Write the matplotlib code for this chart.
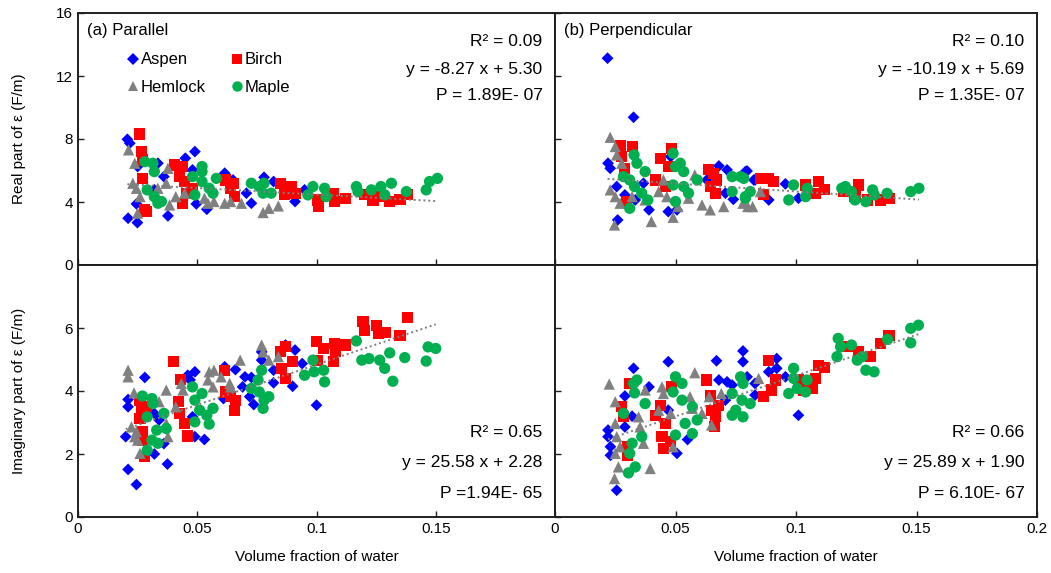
import matplotlib
matplotlib.use("Agg")
import matplotlib.pyplot as plt
from matplotlib.lines import Line2D
import numpy as np

plt.rcParams['font.family'] = ['Liberation Sans', 'DejaVu Sans']

# ---------------- data: volume fraction of water vs. permittivity ----------------
species = ["Aspen", "Birch", "Hemlock", "Maple"]

# (a) Parallel, real part
par_re_aspen_x = [0.0207, 0.0217, 0.021, 0.0249, 0.0245, 0.025, 0.045, 0.049, 0.0496, 0.054, 0.0377, 0.036,
                  0.0615, 0.0706, 0.0727, 0.078, 0.082, 0.091, 0.095, 0.0335, 0.032, 0.065, 0.048]
par_re_aspen_y = [7.98, 7.73, 2.97, 2.69, 3.88, 6.25, 6.78, 7.2, 3.88, 3.54, 3.12, 5.61,
                  5.83, 4.56, 3.92, 5.57, 5.3, 4.03, 4.77, 6.46, 4.77, 5.4, 6.04]
par_re_birch_x = [0.0259, 0.0266, 0.027, 0.027, 0.028, 0.0287, 0.0405, 0.044, 0.0426, 0.0447, 0.0454, 0.044,
                  0.048, 0.062, 0.065, 0.0657, 0.064, 0.085, 0.0894, 0.091, 0.0867, 0.1006, 0.101, 0.107,
                  0.1076, 0.112, 0.120, 0.1237, 0.126, 0.1307, 0.135, 0.138]
par_re_birch_y = [8.32, 7.2, 6.67, 5.5, 3.5, 3.39, 6.35, 6.25, 5.61, 5.3, 4.56, 3.92,
                  4.87, 5.4, 5.19, 4.34, 4.87, 5.19, 4.98, 4.56, 4.45, 4.13, 3.71, 4.56,
                  4.03, 4.24, 4.45, 4.13, 4.34, 4.03, 4.17, 4.45]
par_re_hemlock_x = [0.0212, 0.0238, 0.023, 0.0245, 0.026, 0.025, 0.0377, 0.0384, 0.041, 0.0447, 0.053, 0.0545,
                    0.057, 0.0615, 0.064, 0.0685, 0.0776, 0.080, 0.084, 0.0335, 0.037]
par_re_hemlock_y = [7.31, 6.46, 5.19, 4.87, 4.34, 3.29, 6.14, 3.81, 4.34, 4.56, 4.24, 3.92,
                    4.03, 3.92, 4.03, 3.92, 3.33, 3.6, 3.75, 4.87, 5.19]
par_re_maple_x = [0.028, 0.0314, 0.032, 0.029, 0.032, 0.0335, 0.035, 0.052, 0.052, 0.048, 0.052, 0.055,
                  0.0566, 0.049, 0.058, 0.0727, 0.076, 0.078, 0.0776, 0.081, 0.0964, 0.0985, 0.1034, 0.104,
                  0.1167, 0.1174, 0.123, 0.127, 0.1286, 0.1314, 0.1377, 0.146, 0.1474, 0.1507]
par_re_maple_y = [6.56, 6.46, 5.93, 4.77, 4.34, 3.92, 4.03, 6.25, 5.93, 5.61, 5.3, 4.87,
                  4.56, 4.45, 5.5, 5.19, 4.98, 5.19, 4.56, 4.56, 4.45, 4.98, 4.87, 4.34,
                  4.98, 4.66, 4.77, 4.98, 4.45, 5.19, 4.66, 4.77, 5.30, 5.5]

# (a) Parallel, imaginary part
par_im_aspen_x = [0.021, 0.0245, 0.020, 0.021, 0.021, 0.028, 0.032, 0.0375, 0.036, 0.049, 0.053, 0.049,
                  0.046, 0.047, 0.0615, 0.061, 0.066, 0.070, 0.0727, 0.069, 0.072, 0.0737, 0.082, 0.082,
                  0.077, 0.077, 0.087, 0.091, 0.090, 0.094, 0.100, 0.034, 0.032, 0.048]
par_im_aspen_y = [1.51, 1.03, 2.55, 3.73, 3.50, 4.43, 2.0, 1.68, 2.33, 2.55, 2.46, 4.61,
                  4.5, 4.35, 4.77, 3.76, 4.68, 4.45, 4.43, 4.13, 3.82, 3.57, 4.66, 4.26,
                  4.98, 5.24, 5.46, 5.30, 4.15, 4.87, 3.55, 3.08, 3.29, 3.18]
par_im_birch_x = [0.040, 0.043, 0.026, 0.0265, 0.026, 0.0287, 0.027, 0.028, 0.027, 0.042, 0.0426, 0.0447,
                  0.046, 0.0615, 0.062, 0.064, 0.0657, 0.066, 0.085, 0.087, 0.090, 0.0855, 0.087, 0.100,
                  0.103, 0.1006, 0.1076, 0.108, 0.107, 0.112, 0.1195, 0.120, 0.125, 0.126, 0.129, 0.135, 0.138]
par_im_birch_y = [4.93, 4.37, 3.71, 3.34, 3.13, 3.5, 2.44, 1.91, 2.71, 3.66, 3.29, 2.97,
                  2.57, 4.66, 3.97, 3.82, 3.39, 3.71, 5.24, 5.40, 4.93, 4.72, 4.40, 5.56,
                  5.35, 4.98, 5.51, 5.24, 4.93, 5.46, 6.2, 5.93, 6.09, 5.83, 5.85, 5.77, 6.32]
par_im_hemlock_x = [0.021, 0.021, 0.0235, 0.0224, 0.0238, 0.025, 0.026, 0.0245, 0.034, 0.037, 0.0377, 0.037,
                    0.041, 0.0433, 0.044, 0.0545, 0.055, 0.057, 0.0566, 0.060, 0.0636, 0.064, 0.068, 0.077,
                    0.0776, 0.080, 0.084]
par_im_hemlock_y = [4.66, 4.45, 3.94, 2.86, 2.55, 2.44, 2.02, 2.71, 3.66, 4.03, 2.55, 2.97,
                    3.5, 4.24, 4.03, 4.35, 4.61, 4.66, 4.13, 4.45, 4.24, 4.13, 4.98, 5.46,
                    5.24, 4.98, 5.09]
par_im_maple_x = [0.027, 0.031, 0.0314, 0.029, 0.033, 0.031, 0.029, 0.0335, 0.036, 0.037, 0.048, 0.052,
                  0.049, 0.051, 0.054, 0.055, 0.0566, 0.049, 0.077, 0.0755, 0.0727, 0.076, 0.080, 0.0776,
                  0.078, 0.095, 0.0985, 0.099, 0.1034, 0.103, 0.1167, 0.119, 0.122, 0.1265, 0.1286, 0.1307,
                  0.132, 0.137, 0.146, 0.1468, 0.150]
par_im_maple_y = [3.84, 3.76, 3.6, 3.18, 2.76, 2.44, 2.12, 2.34, 3.29, 2.81, 4.13, 3.92,
                  3.71, 3.39, 3.23, 2.95, 3.45, 3.02, 4.66, 4.35, 4.08, 3.97, 3.82, 3.45,
                  3.71, 4.5, 4.98, 4.61, 4.29, 4.66, 5.59, 4.98, 5.03, 4.98, 4.72, 5.21,
                  4.31, 5.06, 4.95, 5.40, 5.35]

# (b) Perpendicular, real part
per_re_aspen_x = [0.0218, 0.0326, 0.022, 0.0229, 0.0256, 0.029, 0.026, 0.0367, 0.039, 0.047, 0.0506, 0.048,
                  0.068, 0.0714, 0.063, 0.0707, 0.074, 0.0797, 0.0825, 0.0333, 0.079, 0.083, 0.0956, 0.0887, 0.101]
per_re_aspen_y = [13.13, 9.38, 6.46, 6.14, 4.98, 4.45, 2.86, 5.19, 3.5, 3.39, 3.5, 6.88,
                  6.29, 6.04, 5.4, 4.56, 4.17, 5.97, 5.4, 4.13, 5.93, 5.4, 5.15, 4.13, 4.24]
per_re_birch_x = [0.0273, 0.032, 0.0277, 0.029, 0.0298, 0.0437, 0.047, 0.0485, 0.0416, 0.0457, 0.0638, 0.0658,
                  0.0644, 0.067, 0.0665, 0.0852, 0.0887, 0.0908, 0.0865, 0.104, 0.1095, 0.108, 0.112, 0.1199,
                  0.126, 0.1245, 0.1296, 0.135, 0.1386]
per_re_birch_y = [7.56, 7.52, 6.88, 6.14, 4.03, 6.78, 6.25, 7.41, 5.4, 4.98, 6.04, 5.83,
                  4.98, 5.4, 4.56, 5.5, 5.5, 5.29, 4.45, 5.08, 5.29, 4.55, 4.77, 4.66,
                  5.08, 4.34, 4.13, 4.13, 4.24]
per_re_hemlock_x = [0.0229, 0.025, 0.0256, 0.0277, 0.0229, 0.025, 0.027, 0.0247, 0.032, 0.0374, 0.040, 0.043,
                    0.045, 0.0464, 0.049, 0.051, 0.0554, 0.058, 0.061, 0.0644, 0.070, 0.078, 0.080, 0.082, 0.0852]
per_re_hemlock_y = [8.11, 7.52, 6.99, 6.46, 4.77, 4.34, 3.92, 2.54, 4.34, 4.13, 2.76, 4.66,
                    5.4, 4.34, 3.03, 3.71, 4.24, 5.72, 3.81, 3.5, 3.71, 3.92, 3.71, 3.71, 4.66]
per_re_maple_x = [0.0328, 0.034, 0.0374, 0.0284, 0.031, 0.033, 0.036, 0.0385, 0.031, 0.049, 0.052, 0.0534,
                  0.050, 0.049, 0.0534, 0.0554, 0.059, 0.050, 0.0735, 0.077, 0.0735, 0.079, 0.0783, 0.081,
                  0.079, 0.099, 0.097, 0.1047, 0.104, 0.1205, 0.119, 0.123, 0.1245, 0.129, 0.1318, 0.1325,
                  0.1378, 0.1476, 0.151]
per_re_maple_y = [6.99, 6.46, 5.93, 5.61, 5.40, 4.98, 4.56, 4.13, 3.6, 7.09, 6.46, 5.93,
                  6.25, 5.08, 4.98, 4.56, 5.4, 4.03, 5.61, 5.61, 4.66, 4.34, 5.5, 4.66,
                  4.24, 5.08, 4.13, 4.87, 4.34, 4.98, 4.87, 4.66, 4.13, 4.02, 4.77, 4.45,
                  4.55, 4.66, 4.87]

# (b) Perpendicular, imaginary part
per_im_aspen_x = [0.0256, 0.022, 0.022, 0.023, 0.023, 0.029, 0.0326, 0.032, 0.029, 0.047, 0.0506, 0.055,
                  0.047, 0.067, 0.068, 0.0714, 0.0735, 0.0707, 0.078, 0.078, 0.0797, 0.083, 0.0887, 0.092,
                  0.092, 0.0956, 0.101, 0.083, 0.039]
per_im_aspen_y = [0.85, 2.76, 2.55, 2.23, 1.96, 3.84, 4.72, 3.2, 2.86, 4.93, 2.02, 2.46,
                  3.39, 4.96, 4.35, 4.29, 4.19, 3.71, 5.27, 4.93, 4.45, 4.24, 4.61, 4.72,
                  5.03, 4.45, 3.23, 3.87, 4.13]
per_im_birch_x = [0.031, 0.0277, 0.0284, 0.030, 0.030, 0.0416, 0.0437, 0.0457, 0.0444, 0.045, 0.048, 0.0485,
                  0.063, 0.0644, 0.065, 0.0665, 0.066, 0.068, 0.0866, 0.0887, 0.0915, 0.090, 0.101, 0.103,
                  0.108, 0.1067, 0.1095, 0.112, 0.122, 0.126, 0.131, 0.135, 0.1386]
per_im_birch_y = [4.24, 3.5, 3.18, 2.23, 1.96, 3.23, 3.55, 2.97, 2.55, 2.18, 2.39, 4.13,
                  4.35, 3.87, 3.39, 3.18, 2.86, 3.55, 3.82, 4.98, 4.35, 4.03, 4.35, 4.03,
                  4.40, 4.08, 4.82, 4.75, 5.40, 5.24, 5.09, 5.51, 5.77]
per_im_hemlock_x = [0.0225, 0.025, 0.025, 0.0256, 0.025, 0.0247, 0.0263, 0.027, 0.0347, 0.0353, 0.0367, 0.0395,
                    0.043, 0.0444, 0.045, 0.048, 0.049, 0.058, 0.056, 0.057, 0.061, 0.064, 0.065, 0.069,
                    0.0845, 0.0374]
per_im_hemlock_y = [4.22, 3.66, 2.97, 2.55, 2.02, 1.22, 1.59, 2.23, 3.18, 2.86, 2.34, 1.54,
                    3.39, 4.13, 3.92, 3.29, 2.23, 4.58, 3.82, 3.45, 3.29, 3.82, 2.92, 3.92,
                    4.40, 4.03]
per_im_maple_x = [0.034, 0.0326, 0.033, 0.0284, 0.0374, 0.036, 0.032, 0.031, 0.0333, 0.0305, 0.050, 0.0527,
                  0.049, 0.0527, 0.054, 0.057, 0.050, 0.059, 0.057, 0.077, 0.078, 0.0735, 0.0776, 0.081,
                  0.0735, 0.078, 0.075, 0.097, 0.099, 0.099, 0.1005, 0.1046, 0.104, 0.1175, 0.1185, 0.117,
                  0.123, 0.1254, 0.1275, 0.129, 0.1324, 0.138, 0.1476, 0.1508, 0.1476]
per_im_maple_y = [4.35, 4.24, 3.94, 3.29, 3.6, 2.55, 2.34, 2.02, 1.59, 1.40, 4.45, 4.24,
                  3.97, 3.71, 2.97, 2.65, 2.6, 3.08, 3.5, 4.45, 4.24, 3.92, 3.71, 3.6,
                  3.23, 3.18, 3.39, 3.92, 4.72, 4.4, 4.08, 4.35, 3.97, 5.67, 5.40, 5.09,
                  5.46, 4.98, 5.09, 4.66, 4.61, 5.64, 5.99, 6.09, 5.53]

# linear fits reported for each panel: (slope, intercept, R², P text)
fit_par_re = (-8.27, 5.30, "0.09", "P = 1.89E- 07")
fit_par_im = (25.58, 2.28, "0.65", "P =1.94E- 65")
fit_per_re = (-10.19, 5.69, "0.10", "P = 1.35E- 07")
fit_per_im = (25.89, 1.90, "0.66", "P = 6.10E- 67")

# ---------------- styling ----------------
colors = {"Aspen": "#0000FF", "Birch": "#FF0000", "Hemlock": "#808080", "Maple": "#00B050"}
markers = {"Aspen": "D", "Birch": "s", "Hemlock": "^", "Maple": "o"}
sizes = {"Aspen": 36, "Birch": 64, "Hemlock": 66, "Maple": 66}
FS = 11      # tick and axis labels
FS_IN = 12   # panel titles and legend
FS_FIT = 12.6  # fit statistics
SPINE = "#1f1f1f"

W, H = 1051, 573
fig = plt.figure(figsize=(W / 100, H / 100), dpi=100)


def px_axes(x0, y0, x1, y1):
    return fig.add_axes([x0 / W, 1 - y1 / H, (x1 - x0) / W, (y1 - y0) / H])


ax_a_re = px_axes(78, 13, 555, 265)
ax_b_re = px_axes(555, 13, 1037, 265)
ax_a_im = px_axes(78, 265, 555, 517)
ax_b_im = px_axes(555, 265, 1037, 517)

panels = [
    (ax_a_re, [(par_re_aspen_x, par_re_aspen_y), (par_re_birch_x, par_re_birch_y),
               (par_re_hemlock_x, par_re_hemlock_y), (par_re_maple_x, par_re_maple_y)], fit_par_re),
    (ax_b_re, [(per_re_aspen_x, per_re_aspen_y), (per_re_birch_x, per_re_birch_y),
               (per_re_hemlock_x, per_re_hemlock_y), (per_re_maple_x, per_re_maple_y)], fit_per_re),
    (ax_a_im, [(par_im_aspen_x, par_im_aspen_y), (par_im_birch_x, par_im_birch_y),
               (par_im_hemlock_x, par_im_hemlock_y), (par_im_maple_x, par_im_maple_y)], fit_par_im),
    (ax_b_im, [(per_im_aspen_x, per_im_aspen_y), (per_im_birch_x, per_im_birch_y),
               (per_im_hemlock_x, per_im_hemlock_y), (per_im_maple_x, per_im_maple_y)], fit_per_im),
]

for ax, series, (slope, icpt, r2, ptxt) in panels:
    allx = []
    for name, (xs, ys) in zip(species, series):
        ax.scatter(xs, ys, s=sizes[name], marker=markers[name], color=colors[name],
                   edgecolors="none", zorder=3)
        allx += xs
    xl = np.array([min(allx), max(allx)])
    ax.plot(xl, slope * xl + icpt, linestyle=(0, (1, 1.5)), color="#7F7F7F", lw=1.4, zorder=4)
    ax.set_xlim(0, 0.2)
    for sp in ax.spines.values():
        sp.set_color(SPINE)
        sp.set_linewidth(1.4)
    ax.tick_params(direction="in", length=4, width=1, colors=SPINE, labelcolor="black",
                   labelsize=FS, top=False, right=False)
    ax.set_xticks([0, 0.05, 0.1, 0.15, 0.2])

    sign = "-" if icpt < 0 else "+"
    eq = f"y = {slope:.2f} x {sign} {abs(icpt):.2f}"
    top = ax in (ax_a_re, ax_b_re)
    ys_txt = [0.885, 0.775, 0.672] if top else [0.335, 0.215, 0.095]
    for txt, yy in zip([f"R² = {r2}", eq, ptxt], ys_txt):
        ax.text(0.974, yy, txt, transform=ax.transAxes, ha="right", va="center", fontsize=FS_FIT)

# y axes
for ax in (ax_a_re, ax_b_re):
    ax.set_ylim(0, 16)
    ax.set_yticks([0, 4, 8, 12, 16])
    ax.tick_params(labelbottom=False)
for ax in (ax_a_im, ax_b_im):
    ax.set_ylim(0, 8)
    ax.set_yticks([0, 2, 4, 6])
ax_b_re.tick_params(labelleft=False)
ax_b_im.tick_params(labelleft=False)
ax_a_im.set_xticks([0, 0.05, 0.1, 0.15])
ax_a_im.set_xticklabels(["0", "0.05", "0.1", "0.15"])
ax_b_im.set_xticklabels(["0", "0.05", "0.1", "0.15", "0.2"])
ax_a_re.set_yticklabels(["0", "4", "8", "12", "16"])
ax_a_im.set_yticklabels(["0", "2", "4", "6"])

ax_a_re.set_ylabel("Real part of ε (F/m)", fontsize=FS)
ax_a_im.set_ylabel("Imaginary part of ε (F/m)", fontsize=FS)
ax_a_re.yaxis.set_label_coords(-0.11, 0.5)
ax_a_im.yaxis.set_label_coords(-0.11, 0.5)
ax_a_im.set_xlabel("Volume fraction of water", fontsize=FS, labelpad=10)
ax_b_im.set_xlabel("Volume fraction of water", fontsize=FS, labelpad=10)

ax_a_re.text(0.018, 0.93, "(a) Parallel", transform=ax_a_re.transAxes, ha="left", va="center", fontsize=FS_IN)
ax_b_re.text(0.018, 0.93, "(b) Perpendicular", transform=ax_b_re.transAxes, ha="left", va="center", fontsize=FS_IN)

handles = [Line2D([], [], linestyle="none", marker=markers[n], color=colors[n],
                  markersize=6 if n == "Aspen" else 7.5, markeredgewidth=0, label=n)
           for n in ["Aspen", "Hemlock", "Birch", "Maple"]]
ax_a_re.legend(handles=handles, ncol=2, frameon=False, fontsize=FS_IN,
               loc="upper left", bbox_to_anchor=(0.09, 0.87), handlelength=0.6,
               handletextpad=0.2, columnspacing=1.55, labelspacing=0.75, borderaxespad=0)

fig.savefig("out.png", dpi=100)
